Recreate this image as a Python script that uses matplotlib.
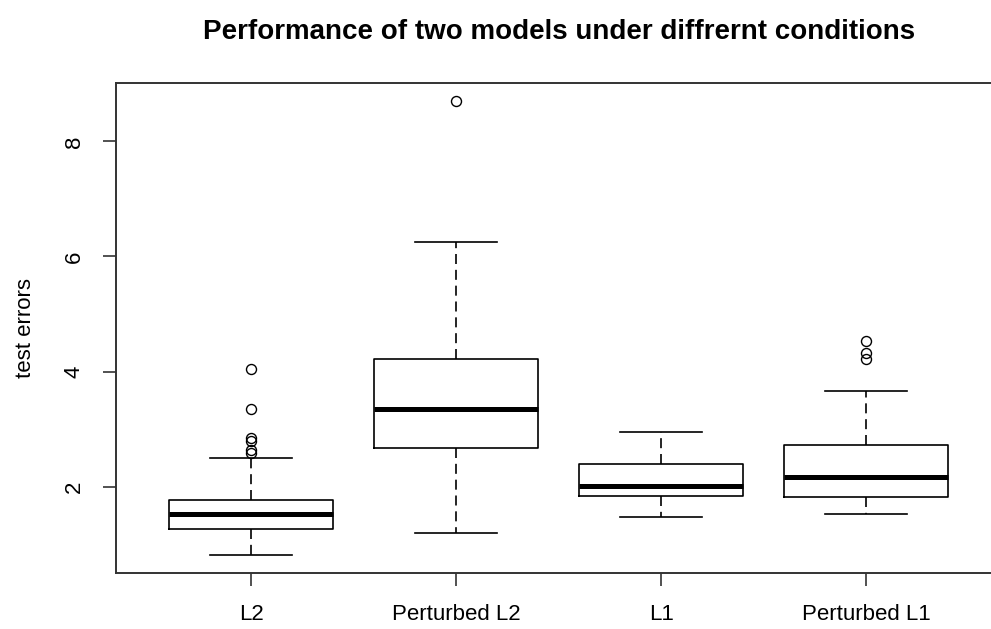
import matplotlib
matplotlib.use('Agg')
import matplotlib.pyplot as plt

plt.rcParams['font.family'] = ['Liberation Sans', 'DejaVu Sans']

# data (five-number summaries + outliers)
labels = ['L2', 'Perturbed L2', 'L1', 'Perturbed L1']
whisker_lo = [0.82, 1.20, 1.47, 1.52]
q1 = [1.26, 2.67, 1.84, 1.82]
medians = [1.52, 3.35, 2.02, 2.17]
q3 = [1.77, 4.22, 2.40, 2.72]
whisker_hi = [2.49, 6.26, 2.95, 3.67]
outliers = [
	[4.05, 3.35, 2.84, 2.80, 2.63, 2.58],
	[8.70],
	[],
	[4.54, 4.32, 4.22],
]

stats = []
for i, name in enumerate(labels):
	stats.append({
		'label': name,
		'whislo': whisker_lo[i],
		'q1': q1[i],
		'med': medians[i],
		'q3': q3[i],
		'whishi': whisker_hi[i],
		'fliers': outliers[i],
	})

fig = plt.figure(figsize=(9.91, 6.29), dpi=100)
ax = fig.add_axes([116 / 991, (629 - 572.7) / 629, 885.3 / 991, 489.7 / 629])

lw = 1.2
ax.bxp(stats, positions=[1, 2, 3, 4], widths=0.8, capwidths=0.4,
	boxprops=dict(color='black', linewidth=lw),
	medianprops=dict(color='black', linewidth=3.6, solid_capstyle='butt'),
	whiskerprops=dict(color='black', linewidth=lw, linestyle=(0, (6, 3.5))),
	capprops=dict(color='black', linewidth=lw),
	flierprops=dict(marker='o', markersize=7.2, markerfacecolor='none',
		markeredgecolor='black', markeredgewidth=1.0, linestyle='none'))

ax.set_xlim(0.34, 4.66)
ax.set_ylim(0.505, 9.015)
ax.set_yticks([2, 4, 6, 8])
ax.set_xticks([1, 2, 3, 4])
ax.set_xticklabels(labels)

for s in ax.spines.values():
	s.set_color('#333333')
	s.set_linewidth(1.4)
ax.tick_params(length=9.4, width=1.2, color='#333333', labelsize=16, pad=13)
ax.tick_params(axis='y', labelrotation=90)
for t in ax.get_yticklabels():
	t.set_verticalalignment('center')

ax.set_ylabel('test errors', fontsize=16)
ax.yaxis.set_label_coords(-0.09, 0.5)
ax.set_title('Performance of two models under diffrernt conditions',
	fontsize=20, fontweight='bold', pad=32)

plt.savefig('out.png', dpi=100)
plt.close()
